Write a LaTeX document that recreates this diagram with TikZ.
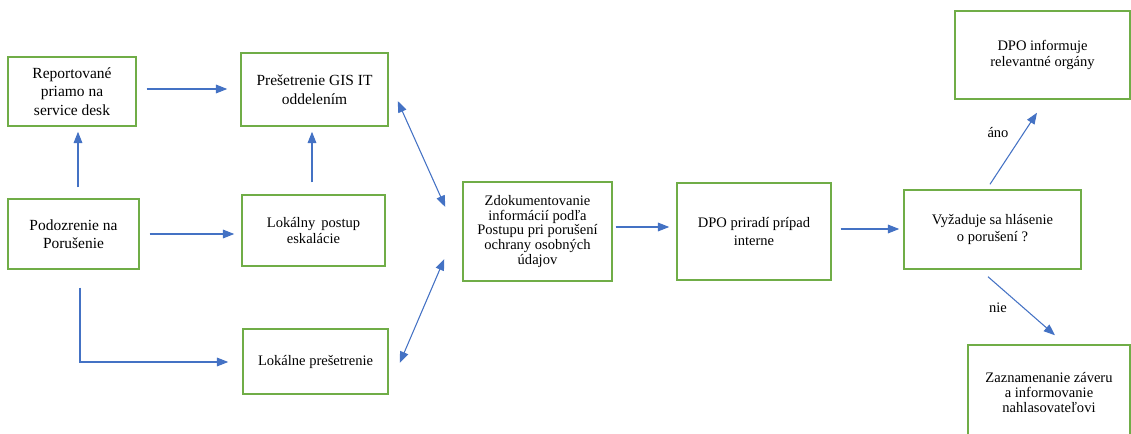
\documentclass[tikz,border=0pt]{standalone}
\usepackage{fontspec}
\setmainfont{Liberation Serif}
\usetikzlibrary{arrows.meta,calc}
\definecolor{boxgreen}{HTML}{70AD47}
\definecolor{arrblue}{HTML}{4472C4}
\tikzset{
  box/.style={draw=boxgreen, line width=1.1pt, fill=white, rectangle, align=center, inner sep=2pt},
  bigtxt/.style={font=\fontsize{11.6}{13.9}\selectfont},
  smalltxt/.style={font=\fontsize{10.9}{12.5}\selectfont},
  conn/.style={draw=arrblue, line width=0.8pt, -{Triangle[length=8.5pt,width=6.5pt]}},
  dconn/.style={draw=arrblue, line width=0.8pt, {Triangle[length=8.5pt,width=6.5pt]}-{Triangle[length=8.5pt,width=6.5pt]}},
  lbl/.style={font=\fontsize{10.9}{12.5}\selectfont, inner sep=0pt}
}
\begin{document}
\begin{tikzpicture}[x=0.75pt,y=-0.75pt]
\useasboundingbox (0,0) rectangle (1131,434);
\node[box,bigtxt,minimum width=96pt,minimum height=51.75pt] (rep) at (72,91.5) {Reportované\\priamo na\\service desk};
\node[box,bigtxt,minimum width=110.25pt,minimum height=54.75pt] (gis) at (314.5,89.5) {Prešetrenie GIS IT\\oddelením};
\node[box,bigtxt,minimum width=98.25pt,minimum height=52.5pt] (pod) at (73.5,234) {Podozrenie na\\Porušenie};
\node[box,smalltxt,minimum width=107.25pt,minimum height=53.25pt] (lok) at (313.5,230.5) {Lokálny\, postup\\eskalácie};
\node[box,smalltxt,minimum width=108.75pt,minimum height=48.75pt] (lokp) at (315.5,361.5) {Lokálne prešetrenie};
\node[box,font=\fontsize{10.9}{11}\selectfont,minimum width=111.75pt,minimum height=74.25pt] (zdok) at (537.5,231.5) {Zdokumentovanie\\informácií podľa\\Postupu pri porušení\\ochrany osobných\\údajov};
\node[box,font=\fontsize{10.9}{13.5}\selectfont,minimum width=115.5pt,minimum height=72.75pt] (dpo) at (754,231.5) {DPO priradí prípad\\interne};
\node[box,smalltxt,minimum width=132.75pt,minimum height=59.25pt] (vyz) at (992.5,229.5) {Vyžaduje sa hlásenie\\o porušení ?};
\node[box,smalltxt,minimum width=131.25pt,minimum height=66pt] (inf) at (1042.5,55) {DPO informuje\\relevantné orgány};
\node[box,font=\fontsize{10.9}{11.25}\selectfont,minimum width=121.5pt,minimum height=72pt] (zaz) at (1049,393) {Zaznamenanie záveru\\a informovanie\\nahlasovateľovi};
% connectors
\draw[conn] ($(rep.east)+(10,-2.5)$) -- ($(gis.west)+(-13,-0.5)$);
\draw[conn] ($(pod.north)+(4.5,-11)$) -- ($(rep.south)+(6,5)$);
\draw[conn] ($(lok.north)+(-1.5,-12)$) -- ($(gis.south)+(-2.5,5)$);
\draw[conn] ($(pod.east)+(10,0)$) -- ($(lok.west)+(-7,3.5)$);
\coordinate (pc) at ($(pod.south)+(6.5,18)$);
\draw[conn] (pc) |- ($(lokp.west)+(-14,0.5)$);
\draw[dconn] ($(gis.east)+(9,11.5)$) -- ($(zdok.west)+(-17,-24.5)$);
\draw[dconn] ($(lokp.east)+(11,1.5)$) -- ($(zdok.west)+(-18,27.5)$);
\draw[conn] ($(zdok.east)+(3,-4.5)$) -- ($(dpo.west)+(-7,-4.5)$);
\draw[conn] ($(dpo.east)+(9,-2.5)$) -- ($(vyz.west)+(-4,-0.5)$);
\draw[conn] ($(vyz.north)+(-2.5,-5)$) -- ($(inf.south)+(-5.5,13)$);
\draw[conn] ($(vyz.south)+(-4.5,7)$) -- ($(zaz.north)+(6,-9)$);
\node[lbl] (ano) at (998,133) {áno};
\node[lbl] (nie) at (998,308) {nie};
\end{tikzpicture}
\end{document}
